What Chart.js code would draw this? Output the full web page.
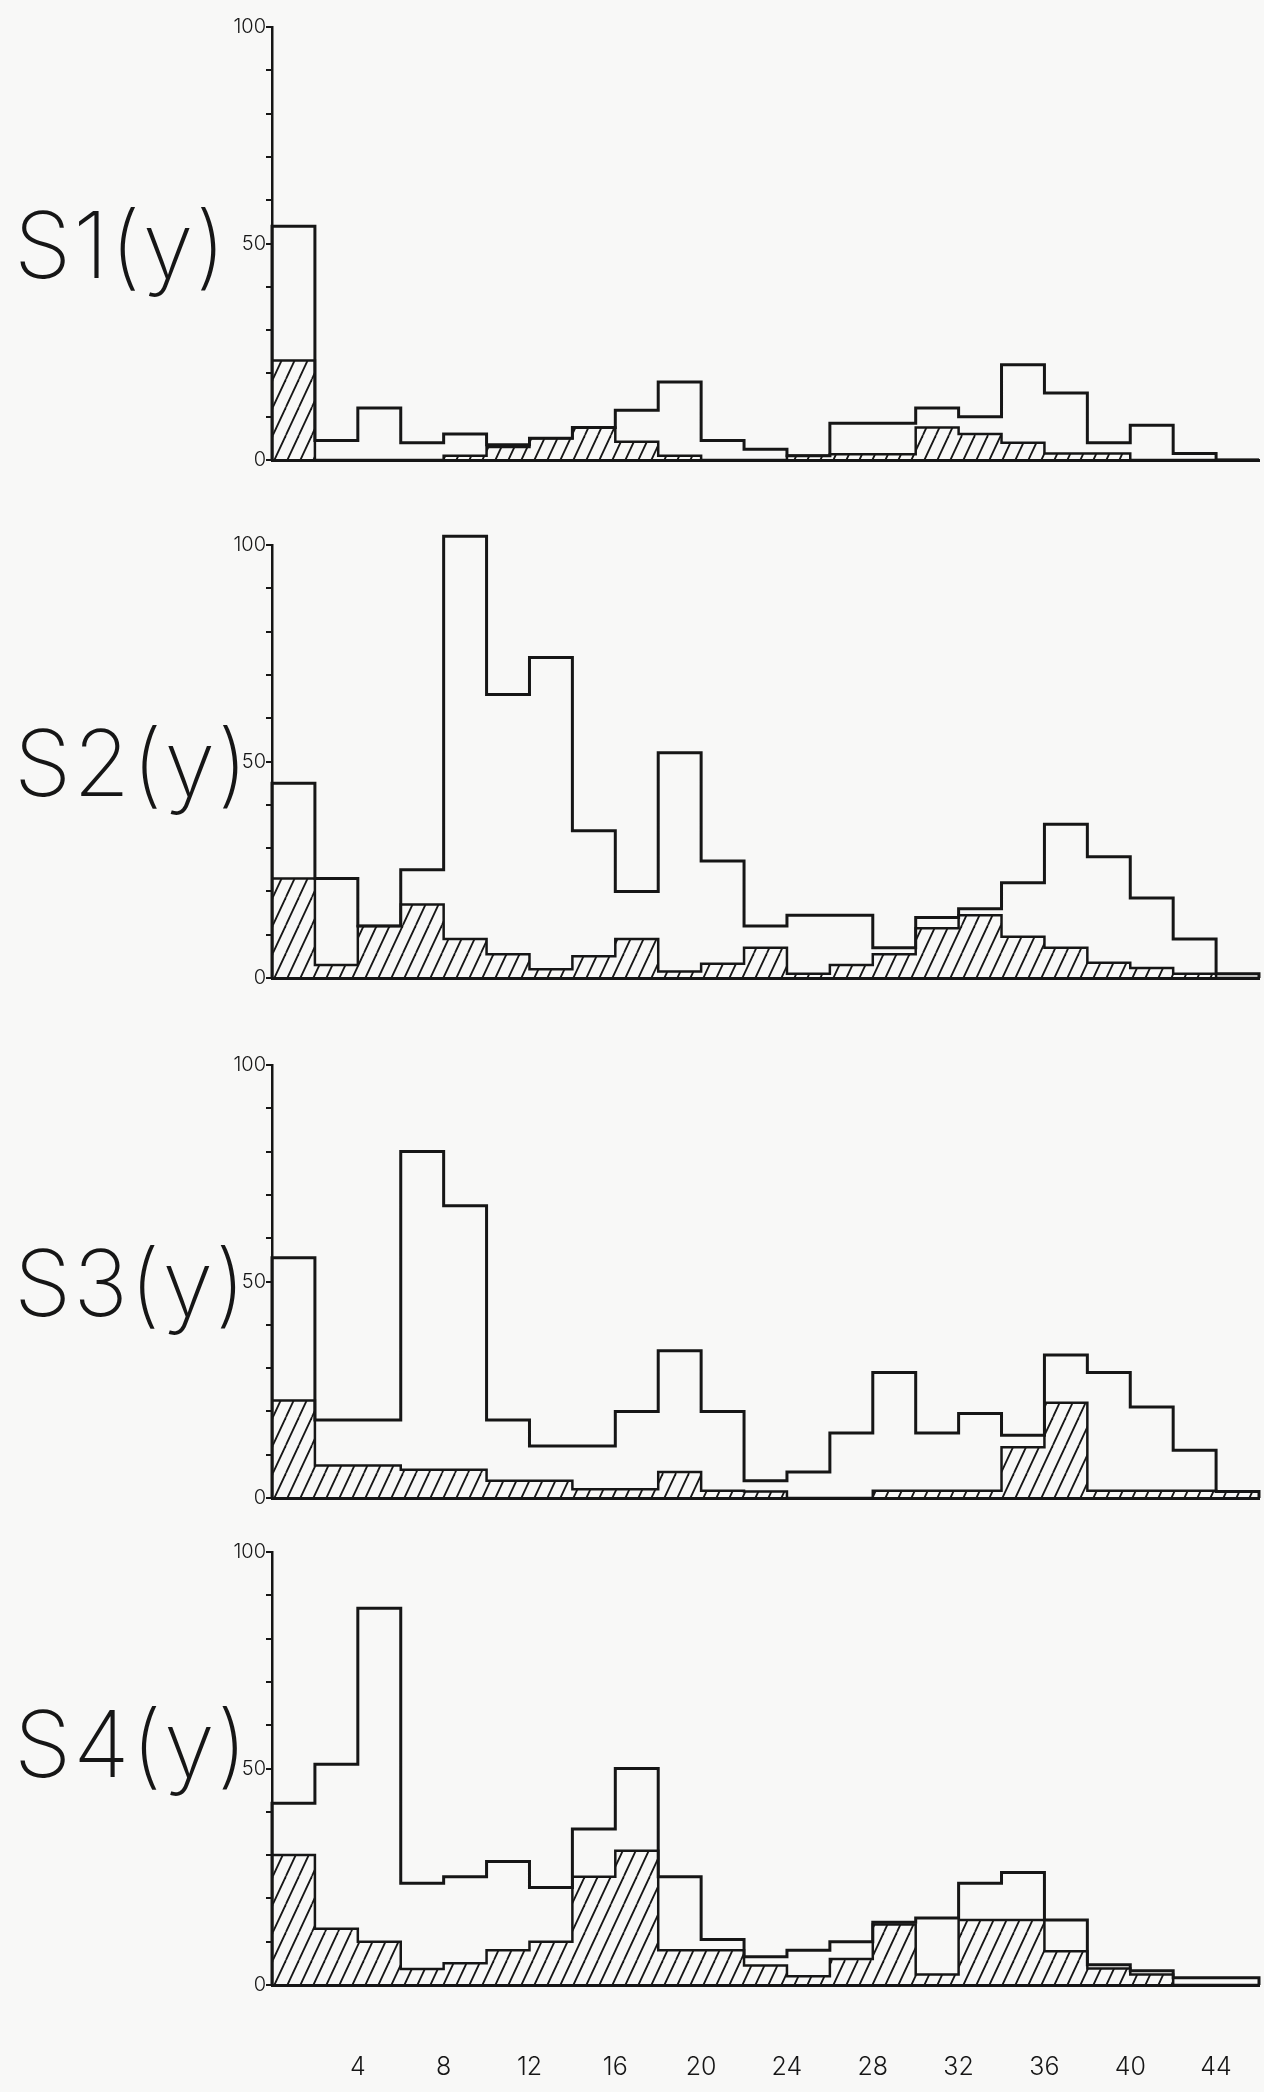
<!DOCTYPE html>
<html>
<head>
<meta charset="utf-8">
<script src="https://cdn.jsdelivr.net/npm/chart.js@4.4.1/dist/chart.umd.min.js"></script>
<style>
  html, body { margin: 0; padding: 0; background: #f8f8f7; width: 1264px; height: 2092px; overflow: hidden; }
  canvas { position: absolute; left: 0; }
</style>
</head>
<body>
<canvas id="c0"></canvas>
<canvas id="c1"></canvas>
<canvas id="c2"></canvas>
<canvas id="c3"></canvas>
<script>
// ---------------- data ----------------
const binStarts = [0, 2, 4, 6, 8, 10, 12, 14, 16, 18, 20, 22, 24, 26, 28, 30, 32, 34, 36, 38, 40, 42, 44];
const binWidth = 2;
const xTickValues = [4, 8, 12, 16, 20, 24, 28, 32, 36, 40, 44];
const yTickValues = [0, 10, 20, 30, 40, 50, 60, 70, 80, 90, 100];
const yTickLabels = [0, 50, 100];
const panelNames = ['S1(y)', 'S2(y)', 'S3(y)', 'S4(y)'];

const s1Total   = [54, 4.5, 12, 4, 6, 3.5, 5, 7.5, 11.5, 18, 4.5, 2.5, 1, 8.5, 8.5, 12, 10, 22, 15.5, 4, 8, 1.5, 0];
const s1Hatched = [23, 0, 0, 0, 1, 3, 5, 7.5, 4.2, 1, 0, 0, 1, 1.3, 1.3, 7.5, 6, 4, 1.5, 1.5, 0, 0, 0];

const s2Total   = [45, 23, 12, 25, 102, 65.5, 74, 34, 20, 52, 27, 12, 14.5, 14.5, 7, 14, 16, 22, 35.5, 28, 18.5, 9, 1];
const s2Hatched = [23, 3, 12, 17, 9, 5.5, 2, 5, 9, 1.5, 3.3, 7, 1, 3, 5.5, 11.5, 14.5, 9.5, 7, 3.5, 2.3, 1, 0];

const s3Total   = [55.5, 18, 18, 80, 67.5, 18, 12, 12, 20, 34, 20, 4, 6, 15, 29, 15, 19.5, 14.5, 33, 29, 21, 11, 1.5];
const s3Hatched = [22.5, 7.5, 7.5, 6.5, 6.5, 4, 4, 2, 2, 6, 1.7, 1.5, 0, 0, 1.7, 1.7, 1.7, 11.7, 22, 1.7, 1.7, 1.7, 1.5];

const s4Total   = [42, 51, 87, 23.5, 25, 28.5, 22.5, 36, 50, 25, 10.5, 6.5, 8, 10, 14.5, 15.5, 23.5, 26, 15, 4.7, 3.3, 1.7, 1.7];
const s4Hatched = [30, 13, 10, 3.7, 5, 8, 10, 25, 31, 8, 8, 4.5, 2, 6, 14, 2.4, 15, 15, 7.8, 3.8, 2.4, 0, 0];

const totals  = [s1Total, s2Total, s3Total, s4Total];
const hatched = [s1Hatched, s2Hatched, s3Hatched, s4Hatched];

// ---------------- layout / style ----------------
const INK = '#161616';
const FONT = "Inter, 'Open Sans', 'DejaVu Sans', sans-serif";
const PANEL_TOPS = [27, 545, 1065, 1552];
const PLOT_H = 433;
const AXIS_X = 272;
const PLOT_RIGHT = 1259;
const PAD_TOP = 40;
const LABEL_BASE_VALUES = [42, 42, 42, 48];

function makeHatch() {
  const w = 13, h = 28;
  const c = document.createElement('canvas');
  c.width = w; c.height = h;
  const g = c.getContext('2d');
  g.strokeStyle = INK;
  g.lineWidth = 1.8;
  [-w, 0, w].forEach(off => {
    g.beginPath();
    g.moveTo(off, h);
    g.lineTo(off + w, 0);
    g.stroke();
  });
  return g.createPattern(c, 'repeat');
}
const hatchPattern = makeHatch();

const panelLabelPlugin = {
  id: 'panelLabel',
  afterDraw(chart, args, opts) {
    const ctx = chart.ctx;
    const y = chart.scales.y.getPixelForValue(opts.baseValue);
    ctx.save();
    ctx.font = '200 92px ' + FONT;
    if ('letterSpacing' in ctx) ctx.letterSpacing = '2px';
    ctx.fillStyle = INK;
    ctx.textBaseline = 'alphabetic';
    ctx.textAlign = 'left';
    ctx.fillText(opts.text, 14, y);
    ctx.restore();
  }
};

function makeChart(i) {
  const cv = document.getElementById('c' + i);
  const bottomH = i === 3 ? 105 : 22;
  cv.width = 1264;
  cv.height = PAD_TOP + PLOT_H + bottomH;
  cv.style.top = (PANEL_TOPS[i] - PAD_TOP) + 'px';

  const lastEdge = binStarts[binStarts.length - 1] + binWidth;
  const tot = totals[i], hat = hatched[i];
  const totalPts = [{ x: binStarts[0], y: 0 }]
    .concat(binStarts.map((b, k) => ({ x: b, y: tot[k] })))
    .concat([{ x: lastEdge, y: tot[tot.length - 1] }, { x: lastEdge, y: 0 }]);
  const hatchPts = binStarts.map((b, k) => ({ x: b, y: hat[k] }))
    .concat([{ x: lastEdge, y: hat[hat.length - 1] }]);

  new Chart(cv, {
    type: 'line',
    data: {
      datasets: [
        {
          label: 'hatched',
          data: hatchPts,
          stepped: true,
          fill: 'origin',
          backgroundColor: hatchPattern,
          borderColor: INK,
          borderWidth: 2.5,
          pointRadius: 0,
          clip: false,
          order: 2
        },
        {
          label: 'total',
          data: totalPts,
          stepped: true,
          fill: false,
          borderColor: INK,
          borderWidth: 3,
          pointRadius: 0,
          clip: false,
          order: 1
        }
      ]
    },
    options: {
      responsive: false,
      animation: false,
      devicePixelRatio: 1,
      layout: { padding: { top: PAD_TOP, right: 1264 - PLOT_RIGHT, bottom: 0, left: 0 } },
      plugins: {
        legend: { display: false },
        tooltip: { enabled: false },
        panelLabel: { text: panelNames[i], baseValue: LABEL_BASE_VALUES[i] }
      },
      scales: {
        x: {
          type: 'linear',
          min: 0,
          max: lastEdge,
          afterBuildTicks: s => { s.ticks = xTickValues.map(v => ({ value: v })); },
          afterFit: s => { s.height = bottomH; },
          grid: { display: true, drawOnChartArea: false, drawTicks: true, tickLength: 63, color: 'rgba(0,0,0,0)' },
          border: { display: true, color: INK, width: 3 },
          ticks: {
            display: i === 3,
            padding: 4,
            color: INK,
            maxRotation: 0,
            autoSkip: false,
            font: { family: FONT, size: 25, weight: '300' }
          }
        },
        y: {
          min: 0,
          max: 100,
          afterBuildTicks: s => { s.ticks = yTickValues.map(v => ({ value: v })); },
          afterFit: s => { s.width = AXIS_X; },
          grid: { display: true, drawOnChartArea: false, drawTicks: true, tickLength: 6, color: INK, lineWidth: 2 },
          border: { display: true, color: INK, width: 2.5 },
          ticks: {
            padding: 0,
            color: INK,
            font: { family: FONT, size: 20, weight: '300' },
            callback: v => yTickLabels.includes(v) ? String(v) : ''
          }
        }
      }
    },
    plugins: [panelLabelPlugin]
  });
}

[0, 1, 2, 3].forEach(makeChart);
</script>
</body>
</html>
